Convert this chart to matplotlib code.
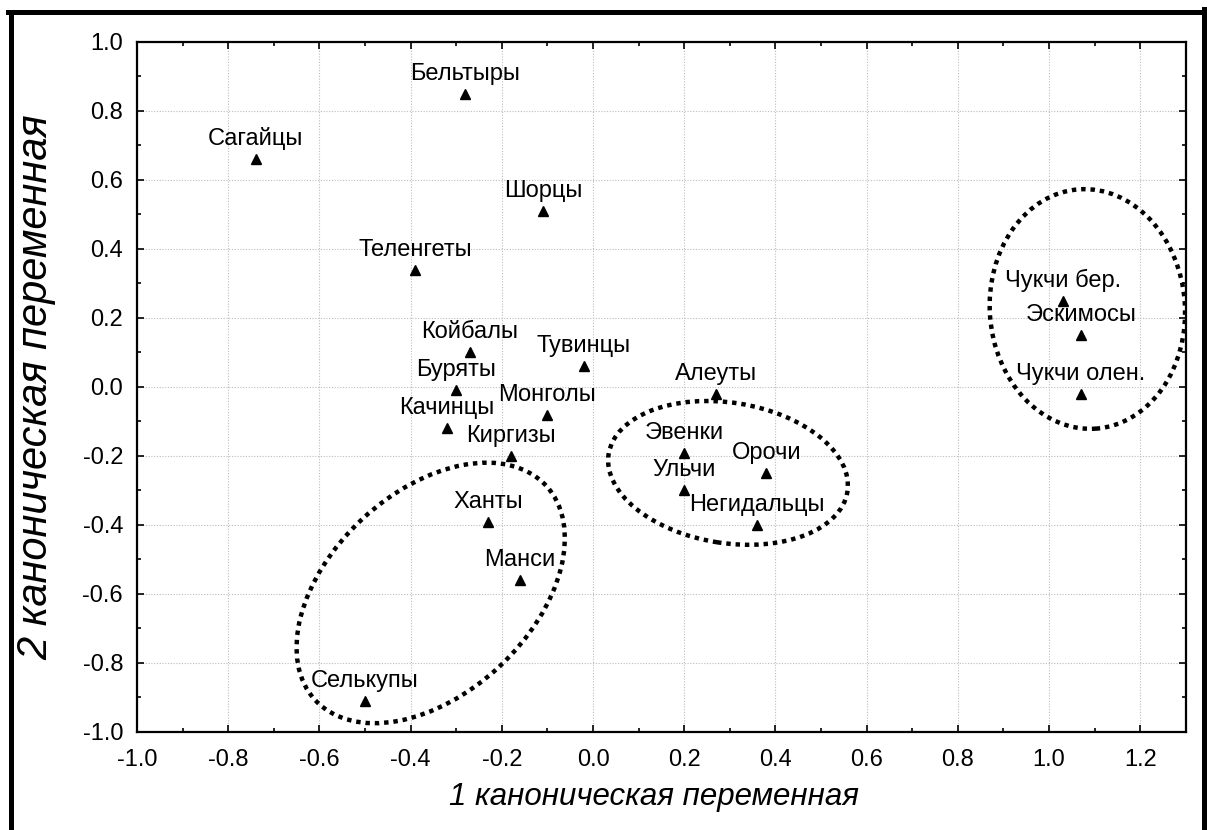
import numpy as np
import matplotlib
matplotlib.use("Agg")
import matplotlib.pyplot as plt
from matplotlib.patches import Ellipse
from matplotlib.lines import Line2D
from matplotlib.transforms import Affine2D
from matplotlib.ticker import MultipleLocator

plt.rcParams['font.family'] = ['Liberation Sans', 'DejaVu Sans']

# canonical scores
names = ['Сагайцы', 'Бельтыры', 'Шорцы', 'Теленгеты', 'Койбалы', 'Тувинцы',
         'Буряты', 'Монголы', 'Качинцы', 'Киргизы', 'Ханты', 'Манси',
         'Селькупы', 'Алеуты', 'Эвенки', 'Ульчи', 'Орочи', 'Негидальцы',
         'Чукчи бер.', 'Эскимосы', 'Чукчи олен.']
can1 = [-0.74, -0.28, -0.11, -0.39, -0.27, -0.02,
        -0.30, -0.10, -0.32, -0.18, -0.23, -0.16,
        -0.50, 0.27, 0.20, 0.20, 0.38, 0.36,
        1.03, 1.07, 1.07]
can2 = [0.66, 0.85, 0.51, 0.34, 0.10, 0.06,
        -0.01, -0.08, -0.12, -0.20, -0.39, -0.56,
        -0.91, -0.02, -0.19, -0.30, -0.25, -0.40,
        0.25, 0.15, -0.02]

# group outlines: centre, semi-axes (in x units), rotation in degrees
ell_cx = [-0.356, 0.296, 1.084]
ell_cy = [-0.597, -0.249, 0.226]
ell_a = [0.3455, 0.265, 0.214]
ell_b = [0.2208, 0.154, 0.263]
ell_ang = [43, -9, 4]

xlim = (-1.0, 1.3)
ylim = (-1.0, 1.0)

fig = plt.figure(figsize=(12.07, 8.30), dpi=100)
ax = fig.add_axes([0.1135, 0.1181, 0.869, 0.8313])

ax.plot(can1, can2, linestyle='none', marker='^', ms=7.5, color='black', zorder=3)
for nm, x, y in zip(names, can1, can2):
    ax.annotate(nm, (x, y), xytext=(0, 14), textcoords='offset pixels',
                ha='center', va='baseline', fontsize=17, zorder=4)

ax.set_xlim(*xlim)
ax.set_ylim(*ylim)

# y units -> x units so that rotated ellipses look right on screen
bb = ax.get_position()
r = (bb.height * 8.30 / (ylim[1] - ylim[0])) / (bb.width * 12.07 / (xlim[1] - xlim[0]))
for cx, cy, a, b, ang in zip(ell_cx, ell_cy, ell_a, ell_b, ell_ang):
    e = Ellipse((cx, cy * r), 2 * a, 2 * b, angle=ang, fill=False,
                edgecolor='black', lw=3.2, linestyle=(0, (1, 1.1)),
                transform=Affine2D().scale(1, 1 / r) + ax.transData, zorder=2)
    e.set_capstyle('butt')
    ax.add_patch(e)

ax.xaxis.set_major_locator(MultipleLocator(0.2))
ax.xaxis.set_minor_locator(MultipleLocator(0.1))
ax.yaxis.set_major_locator(MultipleLocator(0.2))
ax.yaxis.set_minor_locator(MultipleLocator(0.1))
ax.xaxis.set_major_formatter(lambda v, p: f'{v:.1f}')
ax.yaxis.set_major_formatter(lambda v, p: f'{v:.1f}')
ax.tick_params(which='both', direction='in', top=True, right=True, width=1.2)
ax.tick_params(which='major', length=5, labelsize=17)
ax.tick_params(axis='x', which='major', pad=12)
ax.tick_params(axis='y', which='major', pad=10)
ax.tick_params(which='minor', length=3)
for s in ax.spines.values():
    s.set_linewidth(1.6)
ax.grid(True, which='major', linestyle=(0, (1, 1.5)), color='#bcbcbc', lw=0.8)
ax.set_axisbelow(True)

ax.set_xlabel('1 каноническая переменная', fontsize=22.5, style='italic')
ax.set_ylabel('2 каноническая переменная', fontsize=30, style='italic')
ax.xaxis.set_label_coords(0.493, -0.073)
ax.yaxis.set_label_coords(-0.077, 0.5)

# thick outer frame (open at the bottom)
fw = 3.6
fig.add_artist(Line2D([10.5 / 1207, 10.5 / 1207], [-0.1, 1 - 12 / 830], lw=fw, color='black', transform=fig.transFigure))
fig.add_artist(Line2D([8 / 1207, 1206 / 1207], [1 - 12 / 830, 1 - 12 / 830], lw=fw, color='black', transform=fig.transFigure))
fig.add_artist(Line2D([1204 / 1207, 1204 / 1207], [1 - 9.5 / 830, -0.1], lw=fw, color='black', transform=fig.transFigure))

fig.savefig('out.png', dpi=100)
